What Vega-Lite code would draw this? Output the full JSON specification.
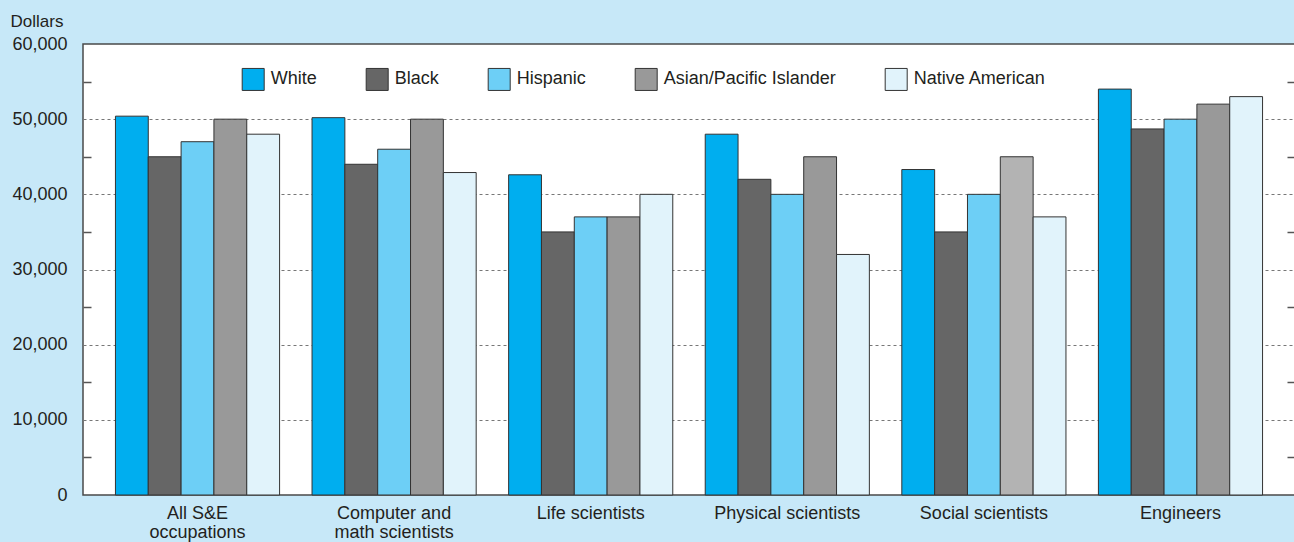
{
  "$schema": "https://vega.github.io/schema/vega-lite/v6.json",
  "width": 1212,
  "height": 451,
  "autosize": {"type": "none"},
  "padding": {"left": 83, "top": 44, "right": 0, "bottom": 47},
  "background": "#c7e8f8",
  "config": {
    "view": {"fill": "white", "stroke": "#4a4a4a", "strokeWidth": 1.5},
    "font": "Liberation Sans",
    "axis": {"titleFontWeight": "normal", "titleFontSize": 17, "titleColor": "#231f20"}
  },
  "data": {
    "values": [
      {"occupation": "All S&E occupations", "group": "White", "salary": 50400},
      {"occupation": "All S&E occupations", "group": "Black", "salary": 45000},
      {"occupation": "All S&E occupations", "group": "Hispanic", "salary": 47000},
      {"occupation": "All S&E occupations", "group": "Asian/Pacific Islander", "salary": 50000},
      {"occupation": "All S&E occupations", "group": "Native American", "salary": 48000},
      {"occupation": "Computer and math scientists", "group": "White", "salary": 50200},
      {"occupation": "Computer and math scientists", "group": "Black", "salary": 44000},
      {"occupation": "Computer and math scientists", "group": "Hispanic", "salary": 46000},
      {"occupation": "Computer and math scientists", "group": "Asian/Pacific Islander", "salary": 50000},
      {"occupation": "Computer and math scientists", "group": "Native American", "salary": 42900},
      {"occupation": "Life scientists", "group": "White", "salary": 42600},
      {"occupation": "Life scientists", "group": "Black", "salary": 35000},
      {"occupation": "Life scientists", "group": "Hispanic", "salary": 37000},
      {"occupation": "Life scientists", "group": "Asian/Pacific Islander", "salary": 37000},
      {"occupation": "Life scientists", "group": "Native American", "salary": 40000},
      {"occupation": "Physical scientists", "group": "White", "salary": 48000},
      {"occupation": "Physical scientists", "group": "Black", "salary": 42000},
      {"occupation": "Physical scientists", "group": "Hispanic", "salary": 40000},
      {"occupation": "Physical scientists", "group": "Asian/Pacific Islander", "salary": 45000},
      {"occupation": "Physical scientists", "group": "Native American", "salary": 32000},
      {"occupation": "Social scientists", "group": "White", "salary": 43300},
      {"occupation": "Social scientists", "group": "Black", "salary": 35000},
      {"occupation": "Social scientists", "group": "Hispanic", "salary": 40000},
      {"occupation": "Social scientists", "group": "Asian/Pacific Islander", "salary": 45000},
      {"occupation": "Social scientists", "group": "Native American", "salary": 37000},
      {"occupation": "Engineers", "group": "White", "salary": 54000},
      {"occupation": "Engineers", "group": "Black", "salary": 48700},
      {"occupation": "Engineers", "group": "Hispanic", "salary": 50000},
      {"occupation": "Engineers", "group": "Asian/Pacific Islander", "salary": 52000},
      {"occupation": "Engineers", "group": "Native American", "salary": 53000}
    ]
  },
  "layer": [
    {
      "mark": {"type": "bar", "stroke": "#333333", "strokeWidth": 1},
      "encoding": {
        "x": {
          "field": "occupation",
          "type": "nominal",
          "sort": null,
          "scale": {"paddingInner": 0.165, "paddingOuter": 0.165},
          "axis": {
            "title": null,
            "domain": false,
            "ticks": false,
            "labelAngle": 0,
            "labelFontSize": 18,
            "labelColor": "#231f20",
            "labelPadding": 9,
            "labelBaseline": "top",
            "labelLineHeight": 19,
            "labelExpr": "datum.label == 'All S&E occupations' ? ['All S&E', 'occupations'] : datum.label == 'Computer and math scientists' ? ['Computer and', 'math scientists'] : datum.label"
          }
        },
        "xOffset": {
          "field": "group",
          "type": "nominal",
          "sort": ["White", "Black", "Hispanic", "Asian/Pacific Islander", "Native American"],
          "scale": {"paddingInner": 0, "paddingOuter": 0}
        },
        "y": {
          "field": "salary",
          "type": "quantitative",
          "scale": {"domain": [0, 60000], "nice": false},
          "axis": {
            "values": [0, 5000, 10000, 15000, 20000, 25000, 30000, 35000, 40000, 45000, 50000, 55000, 60000],
            "labelExpr": "datum.value % 10000 === 0 ? format(datum.value, ',') : ''",
            "labelFontSize": 18,
            "labelColor": "#231f20",
            "labelPadding": 24,
            "labelBaseline": "middle",
            "tickSize": -8,
            "tickColor": "#555555",
            "tickWidth": 1.5,
            "tickOpacity": {"condition": {"test": "datum.value % 10000 !== 0", "value": 1}, "value": 0},
            "domain": false,
            "grid": true,
            "gridDash": [3, 3],
            "gridColor": "#777777",
            "gridWidth": 1,
            "gridOpacity": {"condition": {"test": "datum.value % 10000 === 0 && datum.value > 0 && datum.value < 60000", "value": 1}, "value": 0},
            "title": "Dollars",
            "titleAngle": 0,
            "titleAlign": "left",
            "titleBaseline": "alphabetic",
            "titleX": -73,
            "titleY": -18,
            "titleFontSize": 17,
            "titleFontWeight": "normal",
            "titleColor": "#231f20"
          }
        },
        "color": {
          "field": "group",
          "type": "nominal",
          "condition": {"test": "datum.occupation == 'Social scientists' && datum.group == 'Asian/Pacific Islander'", "value": "#b3b3b3"},
          "scale": {
            "domain": ["White", "Black", "Hispanic", "Asian/Pacific Islander", "Native American"],
            "range": ["#00aeef", "#666666", "#6dcff6", "#999999", "#e1f3fb"]
          },
          "legend": {
            "orient": "none",
            "legendX": 158.7,
            "legendY": 23.7,
            "direction": "horizontal",
            "title": null,
            "symbolType": "square",
            "symbolSize": 484,
            "symbolStrokeColor": "#333333",
            "symbolStrokeWidth": 1,
            "symbolOpacity": 1,
            "labelFontSize": 18,
            "labelColor": "#231f20",
            "labelOffset": 6,
            "labelLimit": 400,
            "columnPadding": 46,
            "padding": 0
          }
        }
      }
    },
    {
      "mark": {"type": "text", "text": ""},
      "encoding": {
        "y": {
          "field": "salary",
          "type": "quantitative",
          "axis": {
            "orient": "right",
            "values": [5000, 15000, 25000, 35000, 45000, 55000],
            "labels": false,
            "domain": false,
            "grid": false,
            "title": null,
            "tickSize": -8,
            "tickColor": "#555555",
            "tickWidth": 1.5
          }
        }
      }
    }
  ],
  "resolve": {"axis": {"y": "independent"}}
}
